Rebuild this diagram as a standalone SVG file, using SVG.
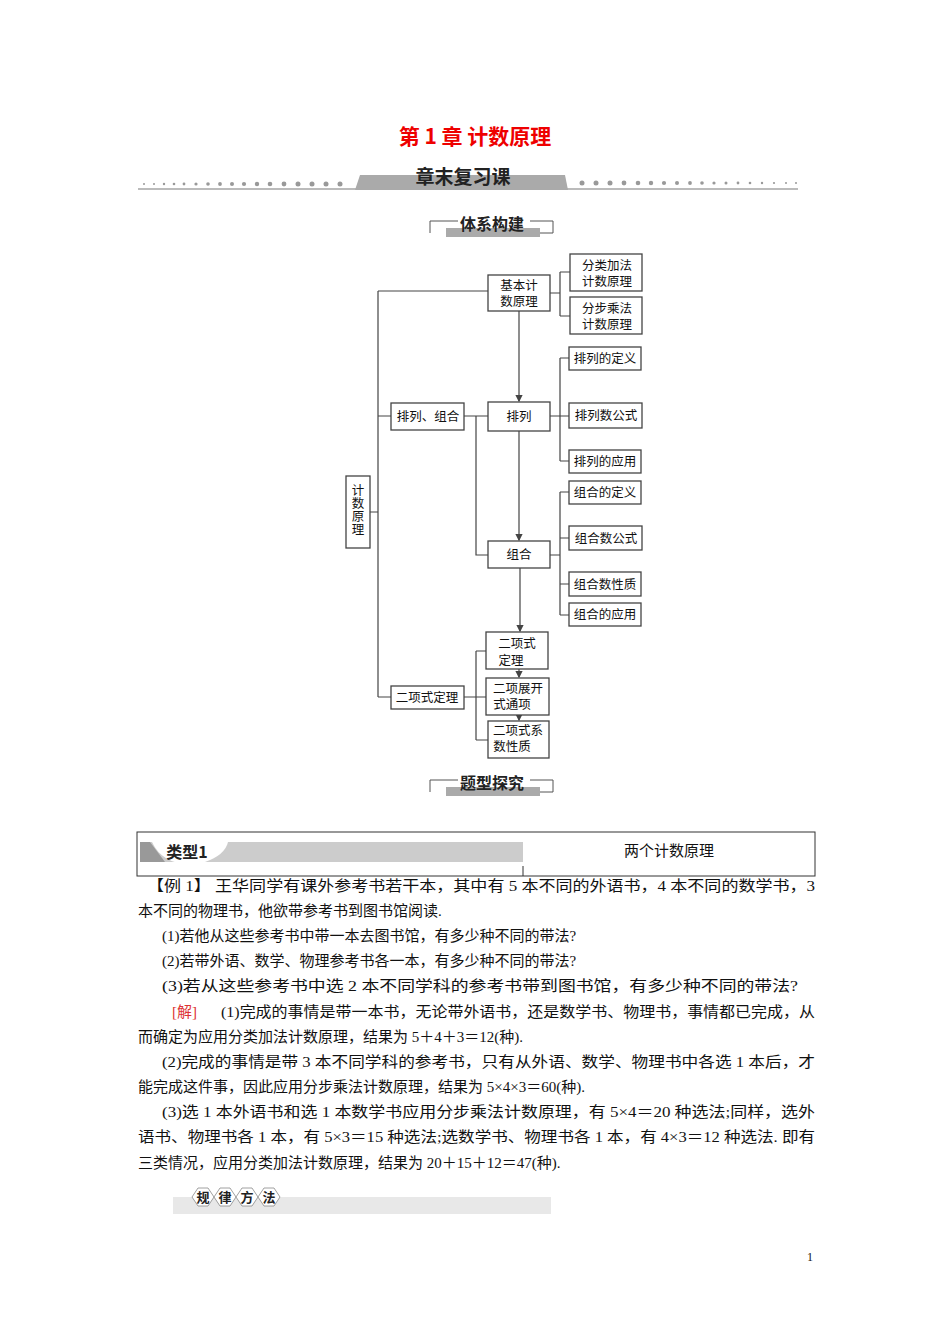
<svg xmlns="http://www.w3.org/2000/svg" width="950" height="1344" viewBox="0 0 950 1344">
<style>
.b{fill:#fff;stroke:#444;stroke-width:1.3}
.t{font-family:"Liberation Serif","Noto Sans CJK SC",serif;font-size:12.5px;fill:#111;text-anchor:middle}
.c{stroke:#444;stroke-width:1.2;fill:none}
.p{font-family:"Liberation Serif","Noto Sans CJK SC",serif;font-size:15px;fill:#111}
.h{font-family:"Noto Sans CJK SC",sans-serif;font-weight:bold;fill:#222;text-anchor:middle}
</style>
<defs><marker id="a" markerWidth="6" markerHeight="6" refX="5" refY="3" orient="auto"><path d="M0,0L6,3L0,6z" fill="#444"/></marker></defs>
<rect width="950" height="1344" fill="#fff"/>
<text x="475" y="144" font-family="Noto Sans CJK SC,sans-serif" font-size="21" font-weight="bold" fill="#e00" text-anchor="middle">第 1 章  计数原理</text>
<line x1="138" y1="189" x2="798" y2="189" stroke="#bbb" stroke-width="2"/>
<g fill="#999">
<circle cx="144" cy="184" r="1"/><circle cx="154" cy="184" r="1"/><circle cx="164" cy="184" r="1.2"/><circle cx="174" cy="184" r="1.3"/><circle cx="184" cy="184" r="1.4"/><circle cx="196" cy="184" r="1.6"/><circle cx="208" cy="184" r="1.8"/><circle cx="220" cy="184" r="1.9"/><circle cx="232" cy="184" r="2"/><circle cx="244" cy="184" r="2.1"/><circle cx="257" cy="184" r="2.2"/><circle cx="270" cy="184" r="2.3"/><circle cx="284" cy="184" r="2.4"/><circle cx="298" cy="184" r="2.5"/><circle cx="312" cy="184" r="2.5"/><circle cx="326" cy="184" r="2.5"/><circle cx="340" cy="184" r="2.5"/>
<circle cx="582" cy="183" r="2.5"/><circle cx="596" cy="183" r="2.5"/><circle cx="610" cy="183" r="2.5"/><circle cx="624" cy="183" r="2.4"/><circle cx="638" cy="183" r="2.3"/><circle cx="651" cy="183" r="2.2"/><circle cx="664" cy="183" r="2.1"/><circle cx="677" cy="183" r="2"/><circle cx="690" cy="183" r="1.9"/><circle cx="702" cy="183" r="1.8"/><circle cx="714" cy="183" r="1.6"/><circle cx="726" cy="183" r="1.5"/><circle cx="738" cy="183" r="1.4"/><circle cx="750" cy="183" r="1.3"/><circle cx="762" cy="183" r="1.2"/><circle cx="774" cy="183" r="1.1"/><circle cx="786" cy="183" r="1"/><circle cx="796" cy="183" r="1"/>
</g>
<path d="M355,190L360,175L565,175L568,190z" fill="#aaa"/>
<text x="463" y="184" class="h" font-size="19">章末复习课</text>
<g>
<path d="M430,233V221H458M530,221H553V233H530" fill="none" stroke="#555"/>
<rect x="446" y="228" width="94" height="9" fill="#aaa"/>
<text x="492" y="230" class="h" font-size="16">体系构建</text>
</g>
<g>
<path d="M430,792V780H458M530,780H553V792H530" fill="none" stroke="#555"/>
<rect x="446" y="787" width="94" height="9" fill="#aaa"/>
<text x="492" y="789" class="h" font-size="16">题型探究</text>
</g>
<g id="connectors">
<path class="c" d="M370,512H378M378,291V697M378,291H488M378,416H391M378,697H391"/>
<path class="c" d="M550,293H560M560,272V316M560,272H570M560,316H570"/>
<path class="c" d="M464,416H488M476,416V555H488"/>
<path class="c" d="M550,416H569M560,358V461M560,358H569M560,461H569"/>
<path class="c" d="M550,555H560M560,492V615M560,492H569M560,538H569M560,584H569M560,615H569"/>
<path class="c" d="M464,697H486M476,651V740M476,651H486M476,740H488"/>
<path class="c" d="M519,311V401" marker-end="url(#a)"/>
<path class="c" d="M519,431V540" marker-end="url(#a)"/>
<path class="c" d="M520,568V631" marker-end="url(#a)"/>
<path class="c" d="M519,669V677" marker-end="url(#a)"/>
<path class="c" d="M519,715V720" marker-end="url(#a)"/>
</g>
<g id="n1"><rect class="b" x="488" y="275" width="62" height="36"/><text class="t" x="519" y="290">基本计</text><text class="t" x="519" y="306">数原理</text></g>
<g id="n2"><rect class="b" x="570" y="254" width="72" height="37"/><text class="t" x="607" y="270">分类加法</text><text class="t" x="607" y="286">计数原理</text></g>
<g id="n3"><rect class="b" x="570" y="297" width="72" height="37"/><text class="t" x="607" y="313">分步乘法</text><text class="t" x="607" y="329">计数原理</text></g>
<g id="n4"><rect class="b" x="569" y="347" width="72" height="23"/><text class="t" x="605" y="363">排列的定义</text></g>
<g id="n5"><rect class="b" x="391" y="403" width="73" height="27"/><text class="t" x="428" y="421">排列、组合</text></g>
<g id="n6"><rect class="b" x="488" y="402" width="62" height="29"/><text class="t" x="519" y="421">排列</text></g>
<g id="n7"><rect class="b" x="569" y="403" width="73" height="25"/><text class="t" x="606" y="420">排列数公式</text></g>
<g id="n8"><rect class="b" x="569" y="450" width="72" height="23"/><text class="t" x="605" y="466">排列的应用</text></g>
<g id="n9"><rect class="b" x="346" y="476" width="24" height="72"/><text class="t" x="358" y="495">计</text><text class="t" x="358" y="508">数</text><text class="t" x="358" y="521">原</text><text class="t" x="358" y="534">理</text></g>
<g id="n10"><rect class="b" x="569" y="481" width="72" height="23"/><text class="t" x="605" y="497">组合的定义</text></g>
<g id="n11"><rect class="b" x="488" y="541" width="62" height="27"/><text class="t" x="519" y="559">组合</text></g>
<g id="n12"><rect class="b" x="569" y="526" width="73" height="24"/><text class="t" x="606" y="543">组合数公式</text></g>
<g id="n13"><rect class="b" x="569" y="572" width="72" height="24"/><text class="t" x="605" y="589">组合数性质</text></g>
<g id="n14"><rect class="b" x="569" y="603" width="72" height="23"/><text class="t" x="605" y="619">组合的应用</text></g>
<g id="n15"><rect class="b" x="486" y="632" width="62" height="37"/><text class="t" x="517" y="648">二项式</text><text class="t" x="511" y="665">定理</text></g>
<g id="n16"><rect class="b" x="486" y="678" width="63" height="37"/><text class="t" x="518" y="693">二项展开</text><text class="t" x="512" y="709">式通项</text></g>
<g id="n17"><rect class="b" x="488" y="721" width="61" height="37"/><text class="t" x="518" y="735">二项式系</text><text class="t" x="512" y="751">数性质</text></g>
<g id="n18"><rect class="b" x="391" y="686" width="73" height="23"/><text class="t" x="427" y="702">二项式定理</text></g>
<g>
<rect x="137" y="832" width="678" height="44" fill="none" stroke="#333"/>
<path d="M140,842H523V862H140z" fill="#ccc"/>
<path d="M140,842H150L165,862H140z" fill="#999"/>
<path d="M152,842Q165,870 205,862Q225,855 228,842z" fill="#fff"/>
<line x1="523" y1="866" x2="523" y2="876" stroke="#333"/>
<text x="187" y="858" font-family="Noto Sans CJK SC,sans-serif" font-size="16" font-weight="bold" fill="#222" text-anchor="middle">类型1</text>
<text x="669" y="856" class="p" text-anchor="middle">两个计数原理</text>
</g>
<g class="p">
<text x="147" y="891" textLength="668" lengthAdjust="spacingAndGlyphs">【例 1】  王华同学有课外参考书若干本，其中有 5 本不同的外语书，4 本不同的数学书，3</text>
<text x="138" y="916">本不同的物理书，他欲带参考书到图书馆阅读.</text>
<text x="162" y="941">(1)若他从这些参考书中带一本去图书馆，有多少种不同的带法?</text>
<text x="162" y="966">(2)若带外语、数学、物理参考书各一本，有多少种不同的带法?</text>
<text x="162" y="991" textLength="636" lengthAdjust="spacingAndGlyphs">(3)若从这些参考书中选 2 本不同学科的参考书带到图书馆，有多少种不同的带法?</text>
<text x="172" y="1017" fill="#d33">[解]</text>
<text x="221" y="1017" textLength="594" lengthAdjust="spacingAndGlyphs">(1)完成的事情是带一本书，无论带外语书，还是数学书、物理书，事情都已完成，从</text>
<text x="138" y="1042">而确定为应用分类加法计数原理，结果为 5＋4＋3＝12(种).</text>
<text x="162" y="1067" textLength="653" lengthAdjust="spacingAndGlyphs">(2)完成的事情是带 3 本不同学科的参考书，只有从外语、数学、物理书中各选 1 本后，才</text>
<text x="138" y="1092">能完成这件事，因此应用分步乘法计数原理，结果为 5×4×3＝60(种).</text>
<text x="162" y="1117" textLength="653" lengthAdjust="spacingAndGlyphs">(3)选 1 本外语书和选 1 本数学书应用分步乘法计数原理，有 5×4＝20 种选法;同样，选外</text>
<text x="138" y="1142" textLength="677" lengthAdjust="spacingAndGlyphs">语书、物理书各 1 本，有 5×3＝15 种选法;选数学书、物理书各 1 本，有 4×3＝12 种选法. 即有</text>
<text x="138" y="1168">三类情况，应用分类加法计数原理，结果为 20＋15＋12＝47(种).</text>
</g>
<g>
<rect x="173" y="1197" width="378" height="17" fill="#e8e8e8"/>
<g fill="#fff" stroke="#888" stroke-width="0.8">
<path d="M192,1197l6,-9h10l6,9l-6,9h-10z"/><path d="M214,1197l6,-9h10l6,9l-6,9h-10z"/><path d="M236,1197l6,-9h10l6,9l-6,9h-10z"/><path d="M258,1197l6,-9h10l6,9l-6,9h-10z"/>
</g>
<g font-family="Noto Sans CJK SC,sans-serif" font-size="13" font-weight="bold" fill="#222" text-anchor="middle">
<text x="203" y="1202">规</text><text x="225" y="1202">律</text><text x="247" y="1202">方</text><text x="269" y="1202">法</text>
</g>
</g>
<text x="810" y="1261" font-family="Liberation Serif,serif" font-size="12" fill="#111" text-anchor="middle">1</text>
</svg>
